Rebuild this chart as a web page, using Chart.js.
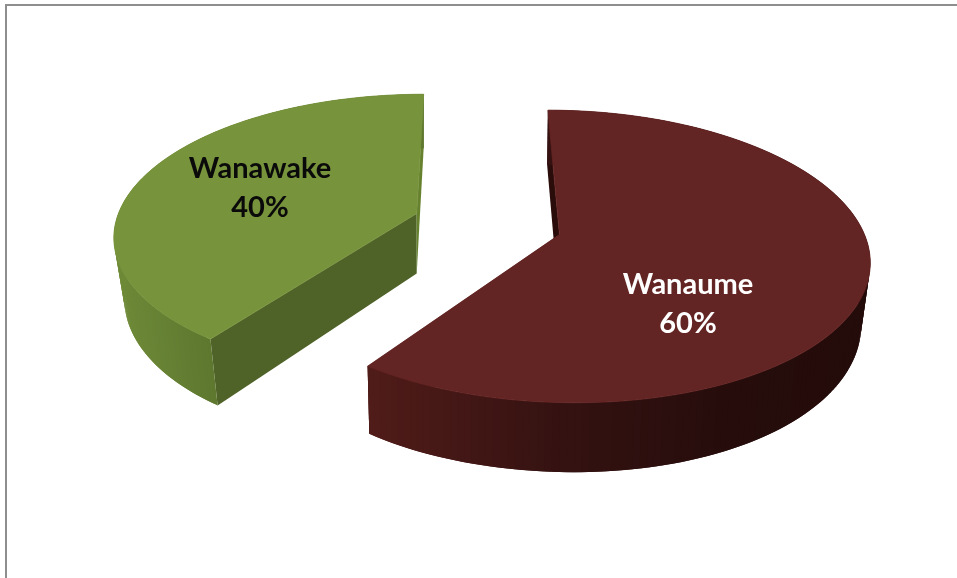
<!DOCTYPE html>
<html>
<head>
<meta charset="utf-8">
<style>
html,body{margin:0;padding:0;background:#fff;overflow:hidden}
#frame{position:absolute;left:5px;top:4px;right:-10px;bottom:-10px;border-left:2px solid #8e8e8e;border-top:2px solid #8e8e8e}
canvas{position:absolute;left:0;top:0}
</style>
<script src="https://cdn.jsdelivr.net/npm/chart.js@4"></script>
</head>
<body>
<div id="frame"></div>
<canvas id="c" width="957" height="578"></canvas>
<script>
const categories = ["Wanaume", "Wanawake"];
const values = [60, 40];
const topColors = ["#632523", "#77933c"];
const labelColors = ["#ffffff", "#0a0a0a"];
const labelCentres = [[688, 285], [260, 169]];
const sliceOffsetX = [0.29, -0.182];
const sliceOffsetZ = [0, 0.15];
// outer wall shading: [screen x, r, g, b]
const wallStops = [
  [[366, 80, 28, 25], [560, 52, 18, 17], [720, 38, 13, 12], [869, 36, 12, 11]],
  [[114, 110, 138, 56], [207, 94, 120, 47], [430, 94, 120, 47]]
];
const cutFaceStart = ["#2a0c0b", "#4f6228"];
const cutFaceEnd = ["#4f1b18", "#67822f"];

const VX = 471, VY = 234.5, RX = 305, RY = 143, K = 0.15;

function project(theta, i) {
  return projectXZ(Math.sin(theta) + sliceOffsetX[i], Math.cos(theta) + sliceOffsetZ[i]);
}
function projectXZ(X, Z) {
  const w = 1 + K * Z;
  return [VX + RX * X / w, VY - RY * Z / w];
}
function down(p) {
  const dx = p[0] - 415;
  const shift = dx > 0 ? dx * dx * 4.4e-5 : dx * 0.035;
  return [p[0] - shift, p[1] + 54 + 0.05 * (p[1] - 93)];
}
function wallColor(x, stops) {
  if (x <= stops[0][0]) return `rgb(${stops[0].slice(1).join(',')})`;
  for (let j = 1; j < stops.length; j++) {
    if (x <= stops[j][0]) {
      const a = stops[j - 1], b = stops[j], t = (x - a[0]) / (b[0] - a[0]);
      return `rgb(${[1, 2, 3].map(n => Math.round(a[n] + (b[n] - a[n]) * t)).join(',')})`;
    }
  }
  const l = stops[stops.length - 1];
  return `rgb(${l.slice(1).join(',')})`;
}
function poly(ctx, pts, fill, seal) {
  ctx.beginPath();
  pts.forEach((p, n) => n ? ctx.lineTo(p[0], p[1]) : ctx.moveTo(p[0], p[1]));
  ctx.closePath();
  ctx.fillStyle = fill;
  ctx.fill();
  if (seal) {
    ctx.strokeStyle = fill;
    ctx.lineWidth = 0.8;
    ctx.stroke();
  }
}

const pie3d = {
  id: 'pie3d',
  beforeDatasetDraw(chart, args) {
    const ctx = chart.ctx;
    const arcs = chart.getDatasetMeta(args.index).data;
    arcs.forEach((arc, i) => {
      const s = arc.startAngle + Math.PI / 2, e = arc.endAngle + Math.PI / 2;
      const steps = 180, rim = [];
      for (let n = 0; n <= steps; n++) rim.push(project(s + (e - s) * n / steps, i));
      const apex = projectXZ(sliceOffsetX[i], sliceOffsetZ[i]);
      const first = rim[0], last = rim[steps];
      poly(ctx, [apex, first, down(first), down(apex)], cutFaceStart[i]);
      poly(ctx, [apex, last, down(last), down(apex)], cutFaceEnd[i]);
      for (let n = 0; n < steps; n++) {
        const a = rim[n], b = rim[Math.min(n + 2, steps)];
        poly(ctx, [a, b, down(b), down(a)], wallColor((a[0] + b[0]) / 2, wallStops[i]));
      }
      poly(ctx, [apex].concat(rim), arc.options.backgroundColor, true);
    });
    return false;
  },
  afterDraw(chart) {
    const ctx = chart.ctx;
    const total = values.reduce((a, b) => a + b, 0);
    ctx.save();
    ctx.font = 'bold 29px Lato, "Open Sans", sans-serif';
    ctx.textAlign = 'center';
    ctx.textBaseline = 'middle';
    categories.forEach((name, i) => {
      ctx.fillStyle = labelColors[i];
      ctx.fillText(name, labelCentres[i][0], labelCentres[i][1]);
      ctx.fillText(Math.round(values[i] / total * 100) + '%', labelCentres[i][0], labelCentres[i][1] + 39);
    });
    ctx.restore();
  }
};

new Chart(document.getElementById('c'), {
  type: 'pie',
  data: { labels: categories, datasets: [{ data: values, backgroundColor: topColors, borderWidth: 0 }] },
  options: {
    responsive: false,
    animation: false,
    plugins: { legend: { display: false }, tooltip: { enabled: false } }
  },
  plugins: [pie3d]
});
</script>
</body>
</html>
